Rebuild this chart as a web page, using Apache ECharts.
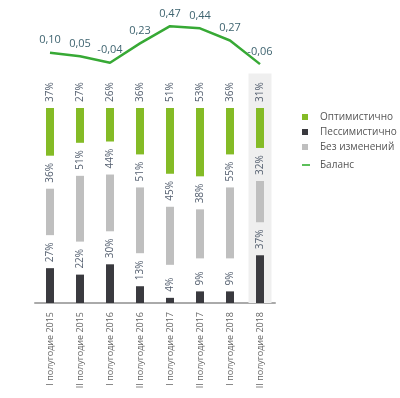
<!DOCTYPE html>
<html>
<head>
<meta charset="utf-8">
<script src="https://cdn.jsdelivr.net/npm/echarts@6/dist/echarts.min.js"></script>
<style>
  html, body { margin: 0; padding: 0; background: #fff; }
  #chart { width: 400px; height: 398px; }
</style>
</head>
<body>
<div id="chart"></div>
<script>
// данные
var categories = ['I полугодие 2015', 'II полугодие 2015', 'I полугодие 2016', 'II полугодие 2016',
  'I полугодие 2017', 'II полугодие 2017', 'I полугодие 2018', 'II полугодие 2018'];
var optimistic = [37, 27, 26, 36, 51, 53, 36, 31];
var noChange = [36, 51, 44, 51, 45, 38, 55, 32];
var pessimistic = [27, 22, 30, 13, 4, 9, 9, 37];
var balance = [0.10, 0.05, -0.04, 0.23, 0.47, 0.44, 0.27, -0.06];

var GAP = 25.6;    // пустое место под подписи между сегментами
var Y_MAX = 178;
var font = 'Open Sans';

function create_chart() {
  var myChart = echarts.init(document.getElementById('chart'));

  var gapData = categories.map(function () { return GAP; });
  // серая подложка под последним полугодием
  var bgData = categories.map(function (c, i) { return i === categories.length - 1 ? Y_MAX : null; });

  function pctLabel() {
    return {
      show: true,
      position: 'top',
      rotate: 90,
      align: 'left',
      verticalAlign: 'middle',
      distance: 6,
      formatter: '{c}%',
      color: '#556070',
      fontFamily: font,
      fontSize: 10
    };
  }

  var option = {
    animation: false,
    grid: [
      { left: 35, right: 125, top: 24, height: 43 },
      { left: 35, right: 125, bottom: 95, height: 229.6 }
    ],
    xAxis: [
      { gridIndex: 0, type: 'category', data: categories, show: false },
      {
        gridIndex: 1, type: 'category', data: categories,
        axisLine: { lineStyle: { color: '#aaaaaa', width: 2 } },
        axisTick: { show: false },
        axisLabel: { rotate: 90, margin: 9, color: '#666', fontFamily: font, fontSize: 9, interval: 0 }
      },
      { gridIndex: 1, type: 'category', data: categories, show: false }
    ],
    yAxis: [
      { gridIndex: 0, type: 'value', min: -0.1, max: 0.5, show: false },
      { gridIndex: 1, type: 'value', min: 0, max: Y_MAX, show: false }
    ],
    legend: [
      {
        orient: 'vertical', left: 297, top: 106,
        itemWidth: 6, itemHeight: 6, itemGap: 3, icon: 'rect',
        textStyle: { color: '#555', fontFamily: font, fontSize: 10, lineHeight: 12, padding: [0, 0, 0, 7] },
        data: ['Оптимистично', 'Пессимистично', 'Без изменений']
      },
      {
        orient: 'vertical', left: 297, top: 154,
        itemWidth: 8, itemHeight: 2, icon: 'rect',
        textStyle: { color: '#555', fontFamily: font, fontSize: 10, lineHeight: 12, padding: [0, 0, 0, 5] },
        data: ['Баланс']
      }
    ],
    series: [
      {
        type: 'bar', xAxisIndex: 2, yAxisIndex: 1, data: bgData,
        barWidth: 23, silent: true, z: 0,
        itemStyle: { color: '#efefef' }
      },
      {
        name: 'Пессимистично', type: 'bar', xAxisIndex: 1, yAxisIndex: 1, stack: 'all',
        data: pessimistic, barWidth: 8, itemStyle: { color: '#3a3a3f' }, label: pctLabel()
      },
      {
        type: 'bar', xAxisIndex: 1, yAxisIndex: 1, stack: 'all', silent: true, barWidth: 8,
        data: gapData, itemStyle: { color: 'rgba(0,0,0,0)' }
      },
      {
        name: 'Без изменений', type: 'bar', xAxisIndex: 1, yAxisIndex: 1, stack: 'all', barWidth: 8,
        data: noChange, itemStyle: { color: '#bfbfbf' }, label: pctLabel()
      },
      {
        type: 'bar', xAxisIndex: 1, yAxisIndex: 1, stack: 'all', silent: true, barWidth: 8,
        data: gapData, itemStyle: { color: 'rgba(0,0,0,0)' }
      },
      {
        name: 'Оптимистично', type: 'bar', xAxisIndex: 1, yAxisIndex: 1, stack: 'all', barWidth: 8,
        data: optimistic, itemStyle: { color: '#84bb26' }, label: pctLabel()
      },
      {
        name: 'Баланс', type: 'line', xAxisIndex: 0, yAxisIndex: 0,
        data: balance, symbol: 'circle', symbolSize: 0.1, showSymbol: true,
        lineStyle: { color: '#37a935', width: 2.5 },
        itemStyle: { color: '#5cbf5a' },
        label: {
          show: true, position: 'top', distance: 7,
          color: '#3f6470', fontFamily: font, fontSize: 11,
          formatter: function (p) { return p.value.toFixed(2).replace('.', ','); }
        }
      }
    ]
  };

  myChart.setOption(option);
  return myChart;
}

create_chart();
</script>
</body>
</html>
